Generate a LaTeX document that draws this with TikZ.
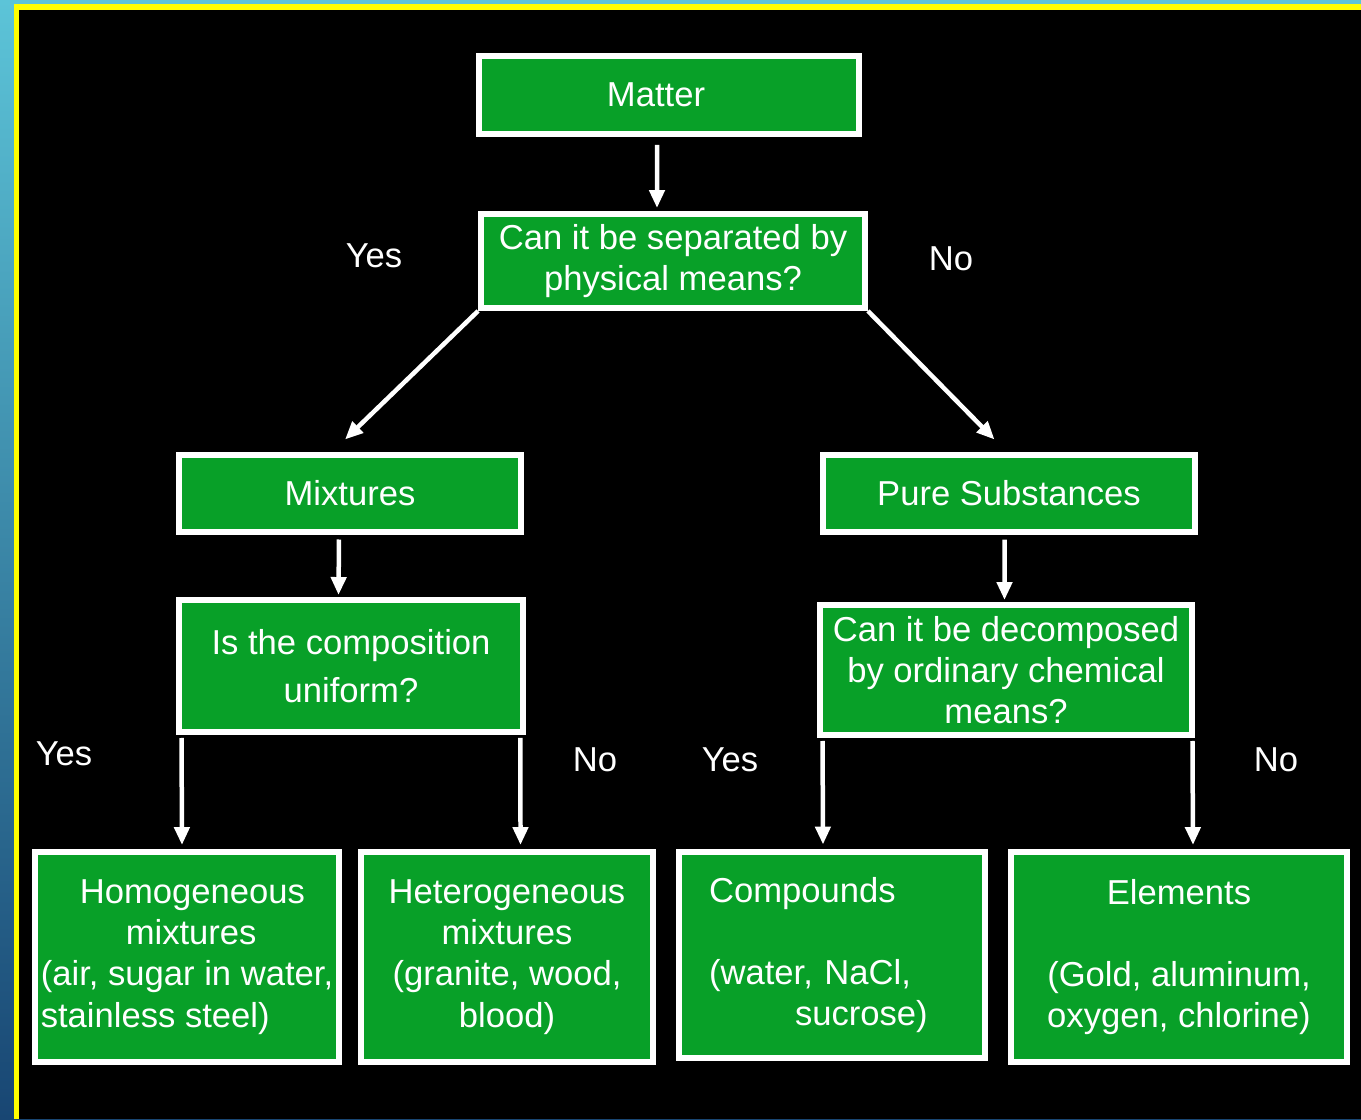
\documentclass[tikz,border=0pt]{standalone}
\usepackage{fontspec}
\setmainfont{Liberation Sans}
\usepackage{xcolor}
\usepackage{tikz}
\usetikzlibrary{arrows.meta,positioning}
\definecolor{boxgreen}{RGB}{8,160,40}
\definecolor{stripTop}{RGB}{92,196,216}
\definecolor{stripBot}{RGB}{24,70,115}
\definecolor{frameYellow}{RGB}{255,255,0}
\tikzset{
  gbox/.style={rectangle, draw=white, line width=0.12cm, fill=boxgreen,
               text=white, inner sep=0pt, align=center,
               font=\fontsize{19.7pt}{23.5pt}\selectfont},
  ans/.style={text=white, inner sep=0pt, font=\fontsize{19.7pt}{23.5pt}\selectfont},
  arr/.style={-{Triangle[length=0.36cm, width=0.3cm]}, line width=0.09cm, draw=white},
}

\begin{document}
\begin{tikzpicture}[x=0.02cm, y=-0.02cm]
  % frame and background
  \useasboundingbox (0,0) rectangle (1361,1119);
  \shade[top color=stripTop, bottom color=stripBot] (0,0) rectangle (1361,1119);
  \fill[frameYellow] (14,4) rectangle (1361,1119);
  \fill[black] (19,10) rectangle (1361,1119);

  % boxes
  \node[gbox, minimum width=7.6cm,  minimum height=1.56cm] (matter) at (669,95)   {Matter\hspace*{0.52cm}};
  \node[gbox, minimum width=7.68cm, minimum height=1.88cm] (sep)    at (673,261)  {Can it be separated by\\physical means?};
  \node[gbox, minimum width=6.84cm, minimum height=1.54cm] (mix)    at (350,493)  {Mixtures};
  \node[gbox, minimum width=7.46cm, minimum height=1.54cm] (pure)   at (1009,493) {Pure Substances};
  \node[gbox, minimum width=6.9cm,  minimum height=2.64cm] (unif)   at (351,666)  {Is the composition\\[0.14cm]uniform?};
  \node[gbox, minimum width=7.46cm, minimum height=2.6cm]  (decomp) at (1006,670) {Can it be decomposed\\by ordinary chemical\\means?};
  \node[gbox, minimum width=6.08cm, minimum height=4.2cm, align=left] (homo) at (187,957)
    {\hspace*{0.78cm}Homogeneous\\\hspace*{1.7cm}mixtures\\(air, sugar in water,\\stainless steel)};
  \node[gbox, minimum width=5.86cm, minimum height=4.2cm]  (hetero) at (507,957)
    {Heterogeneous\\mixtures\\(granite, wood,\\blood)};
  \node[gbox, minimum width=6.12cm, minimum height=4.14cm, text width=4.92cm, align=left] (comp) at (832,955)
    {Compounds\\[23.5pt](water, NaCl,\\\hspace*{1.72cm}sucrose)};
  \node[gbox, minimum width=6.72cm, minimum height=4.2cm]  (elem)   at (1179,957)
    {Elements\\[23.5pt](Gold, aluminum,\\oxygen, chlorine)};

  % yes / no labels
  \foreach \n/\x/\y/\t in {yes1/374/256/Yes, no1/951/259/No, yes2/64/754/Yes,
                           no2/595/760/No, yes3/730/760/Yes, no3/1276/760/No}
    \node[ans] (\n) at (\x,\y) {\t};

  % arrows
  \draw[arr, shorten <=0.16cm, shorten >=0.06cm] ([xshift=-0.24cm]matter.south) -- ([xshift=-0.32cm]sep.north);
  \draw[arr] (sep.south west) -- ([xshift=-0.1cm, yshift=0.24cm]mix.north);
  \draw[arr] (sep.south east) -- ([xshift=-0.29cm, yshift=0.24cm]pure.north);
  \draw[arr, shorten <=0.1cm, shorten >=0.04cm] ([xshift=-0.22cm]mix.south) -- ([xshift=-0.25cm]unif.north);
  \draw[arr, shorten <=0.1cm, shorten >=0.04cm] ([xshift=-0.09cm]pure.south) -- ([xshift=-0.03cm]decomp.north);
  \draw[arr, shorten <=0.06cm, shorten >=0.08cm] ([xshift=0.12cm]unif.south west) -- ([xshift=-0.1cm]homo.north);
  \draw[arr, shorten <=0.06cm, shorten >=0.08cm] ([xshift=-0.12cm]unif.south east) -- ([xshift=0.27cm]hetero.north);
  \draw[arr, shorten <=0.06cm, shorten >=0.08cm] ([xshift=0.12cm]decomp.south west) -- ([xshift=-0.18cm]comp.north);
  \draw[arr, shorten <=0.06cm, shorten >=0.08cm] ([xshift=-0.06cm]decomp.south east) -- ([xshift=0.28cm]elem.north);
\end{tikzpicture}
\end{document}
